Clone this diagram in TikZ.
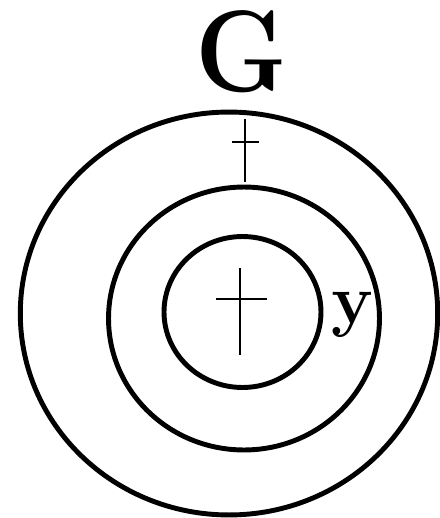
\documentclass[tikz,border=0pt]{standalone}
\usepackage{tikz}
\usetikzlibrary{shapes.geometric, positioning}
\tikzset{
    ring/.style={ellipse, draw, line width=2.8pt, inner sep=0pt, outer sep=0pt},
    crossline/.style={line width=1.1pt},
    bigletter/.style={font=\fontsize{66}{66}\selectfont\bfseries, inner sep=0pt},
    smallletter/.style={font=\fontsize{40}{40}\selectfont\bfseries, inner sep=0pt}
}
\begin{document}
\begin{tikzpicture}[x=0.02cm, y=-0.02cm]
    \useasboundingbox (0,0) rectangle (440,518);

    % Nested rings
    \node[ring, minimum width=8.35cm, minimum height=8.06cm] (outer) at (229,313.5) {};
    \node[ring, minimum width=5.42cm, minimum height=5.26cm] (middle) at (244,318.5) {};
    \node[ring, minimum width=3.14cm, minimum height=3.02cm] (inner) at (242.5,312) {};

    % Labels
    \node[bigletter] (glabel) at (242,52) {\scalebox{0.9}[1]{G}};
    \node[smallletter, anchor=base] (ylabel) at (352,323) {y};

    % Crosses
    \draw[crossline] (245,119) -- (245,182);
    \draw[crossline] (232,142) -- (259,142);
    \draw[crossline] (240,268) -- (240,355);
    \draw[crossline] (216,299) -- (267,299);
\end{tikzpicture}
\end{document}
